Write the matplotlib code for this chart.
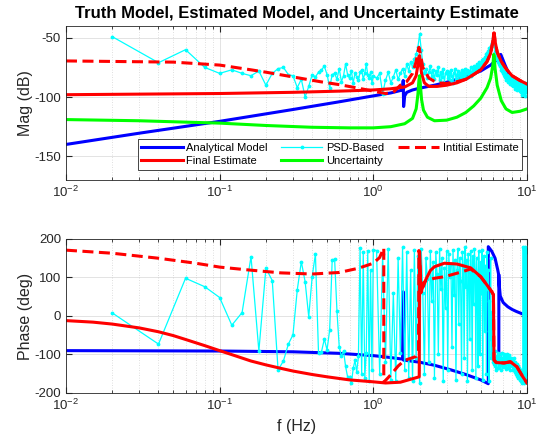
#!/usr/bin/env python3

import numpy as np
import matplotlib
matplotlib.use('Agg')
import matplotlib.pyplot as plt
from matplotlib.ticker import LogLocator, NullFormatter

plt.rcParams['font.family'] = ['Liberation Sans', 'DejaVu Sans']
plt.rcParams['mathtext.fontset'] = 'custom'
plt.rcParams['mathtext.rm'] = 'Liberation Sans'
plt.rcParams['axes.unicode_minus'] = False

# analytical (truth) model
f_model_mag = [0.01, 0.03, 0.1, 0.3, 0.6, 1.0, 1.3, 1.5, 1.55, 1.565, 1.575, 1.6, 1.65, 1.8, 2.0, 2.5, 3.0,
               4.0, 5.0, 5.8, 6.3, 6.6, 6.75, 6.9, 7.2, 7.6, 8.0, 9.0, 10.0]
mag_model = [-140, -130.5, -120.5, -110.5, -104, -99, -96.5, -94.5, -94, -86, -108, -99, -96, -94, -92.5, -90,
             -87.5, -83, -78, -73, -69, -66, -64, -67, -73, -80, -84, -89, -91]
f_model_ph = [0.01, 0.1, 0.3, 0.6, 1.0, 1.3, 1.55, 1.565, 1.575, 1.6, 2.0, 2.5, 3.2, 4.0, 5.0, 5.6, 5.6, 5.9, 6.2,
              6.45, 6.56, 6.56, 6.56, 6.56, 6.6, 6.7, 7.0, 7.5, 8.0, 8.5, 9.0, 9.4]
ph_model = [-90, -91, -93, -97, -103, -108, -112, 63, -115, -115, -120, -128, -140, -152, -166, -176, 180, 168, 150,
            120, 105, -112, np.nan, 105, 80, 52, 35, 24, 17, 12, 8, 5]

# final estimate
f_final_mag = [0.01, 0.1, 0.3, 0.6, 1.0, 1.3, 1.6, 1.8, 1.9, 1.95, 1.98, 2.0, 2.02, 2.06, 2.15, 2.3, 2.6, 3.0,
               3.5, 4.0, 4.5, 5.0, 5.5, 5.8, 6.0, 6.08, 6.12, 6.2, 6.4, 6.8, 7.3, 8.0, 9.0, 10.0]
mag_final = [-98, -97, -96, -95, -94, -93, -91.5, -88, -82, -73, -66, -65, -70, -80, -88, -91, -91, -90,
             -88, -85, -81, -77, -70, -63, -53, -46, -46, -53, -62, -70, -76, -82, -86, -89]
f_final_ph = [0.01, 0.015, 0.02, 0.03, 0.04, 0.05, 0.06, 0.08, 0.1, 0.13, 0.16, 0.2, 0.25, 0.3, 0.4, 0.5, 0.7,
              1.0, 1.2, 1.5, 1.8, 1.99, 2.0, 2.02, 2.04, 2.08, 2.12, 2.2, 2.35, 2.5, 2.9, 3.5, 4.3, 5.0, 5.5,
              5.9, 6.05, 6.1, 6.3, 7.1, 7.8, 8.6, 9.4, 10.0]
ph_final = [-12, -16, -21, -31, -41, -51, -61, -77, -90, -105, -117, -127, -136, -143, -152, -158, -166,
            -171, -174, -172, -163, -158, 167, 120, 60, 72, 77, 95, 118, 128, 137, 135, 125, 102, 80,
            63, 55, -114, -121, -122, -119, -132, -158, -174]

# initial estimate
f_init_mag = [0.01, 0.05, 0.1, 0.16, 0.2, 0.3, 0.45, 0.6, 0.8, 1.0, 1.2, 1.35, 1.5, 1.65, 1.8, 1.9, 1.95, 1.98,
              2.02, 2.1, 2.3, 2.6, 3.0, 3.5, 4.0, 4.5, 5.0, 5.5, 5.8, 6.0, 6.08, 6.12, 6.2, 6.4, 6.8, 7.3, 8.0,
              9.0, 10.0]
mag_init = [-69.5, -70.5, -73, -77, -79, -83, -87, -89.5, -92.5, -95, -97, -96, -90, -87, -80, -70, -62, -58,
            -63, -75, -84, -88, -88.5, -87, -85, -81, -77, -70, -63, -53, -46, -46, -53, -62, -70, -76, -82,
            -86, -89]
f_init_ph = [0.01, 0.02, 0.04, 0.07, 0.1, 0.15, 0.25, 0.4, 0.6, 0.8, 1.0, 1.1, 1.17, 1.17, 1.25, 1.35, 1.45,
             1.6, 1.75, 1.9, 1.97, 1.98, 2.05, 2.2, 2.5, 2.9, 3.5, 4.0, 4.3, 5.0, 5.5, 5.9, 6.05, 6.1, 6.3, 7.1,
             7.8, 8.6, 9.4, 10.0]
ph_init = [171, 163, 150, 137, 127, 120, 112, 109, 113, 124, 137, 152, 177, -172, -160, -145, -130,
           -115, -110, -105, -90, 170, 80, 92, 98, 102, 111, 118, 122, 102, 80, 63, 55, -114, -121, -122,
           -119, -132, -158, -174]

# uncertainty
f_unc = [0.01, 0.03, 0.1, 0.2, 0.4, 0.7, 1.0, 1.3, 1.6, 1.8, 1.9, 1.95, 1.98, 2.0, 2.02, 2.06, 2.12, 2.25, 2.5,
         3.0, 3.5, 4.0, 4.5, 5.0, 5.5, 5.8, 6.0, 6.08, 6.12, 6.2, 6.4, 6.8, 7.3, 8.0, 9.0, 10.0]
mag_unc = [-119, -120, -122, -124, -125.5, -126, -126, -125, -122.5, -118, -110, -98, -86, -82, -88, -102, -111,
           -117, -120, -119.5, -117, -113, -107.5, -101, -92, -84, -73, -64, -66, -76, -90, -103, -110, -113,
           -112, -110]

# PSD-based estimate (0.02 Hz bins below 1 Hz, 0.05 Hz above)
psd_f = np.concatenate([np.arange(1, 51) * 0.02, 1.0 + np.arange(1, 181) * 0.05])
psd_mag = [
    -49, -71, -60, -75, -80, -77, -80, -82, -78, -90,
    -80, -76, -75, -81, -82, -92, -85, -100, -91, -81,
    -83, -79, -77, -74, -81, -92, -81, -80, -85, -76,
    -87, -82, -72, -81, -84, -78, -88, -80, -83, -86,
    -79, -77, -85, -80, -72, -81, -84, -79, -88, -82,
    -84, -80, -97, -86, -79, -88, -83, -77, -85, -80,
    -76, -82, -72, -78, -70, -75, -68, -64, -58, -47,
    -60, -72, -80, -76, -84, -79, -74, -82, -77, -85,
    -78, -81, -75, -86, -79, -83, -76, -88, -80, -78,
    -84, -79, -86, -77, -82, -88, -80, -76, -85, -81,
    -78, -86, -80, -83, -77, -85, -79, -82, -76, -84,
    -80, -77, -83, -78, -81, -75, -82, -79, -76, -80,
    -74, -79, -76, -72, -78, -73, -76, -70, -74, -71,
    -73, -69, -72, -68, -70, -66, -69, -64, -67, -63,
    -65, -61, -63, -59, -60, -57, -58, -55, -54, -52,
    -50, -54, -58, -62, -61, -66, -64, -68, -70, -69,
    -72, -70, -74, -73, -77, -75, -78, -76, -80, -78,
    -81, -79, -83, -80, -84, -82, -86, -81, -85, -83,
    -87, -84, -82, -88, -85, -89, -84, -87, -90, -86,
    -88, -85, -91, -87, -84, -90, -88, -93, -86, -89,
    -91, -87, -94, -89, -86, -92, -90, -88, -95, -89,
    -92, -88, -96, -90, -93, -87, -98, -91, -89, -94,
    -90, -97, -92, -88, -99, -93, -90, -96, -91, -94,
]
psd_ph = [
    8, -73, 98, 76, 48, -24, 9, 154, -91, 124,
    92, -140, -117, -73, -49, 68, 141, 89, -2, 102,
    161, -97, -93, -60, -88, -36, 145, 148, 13, -80,
    -105, -90, -131, -158, -158, -175, -136, -115, -145, -105,
    176, -150, 165, -160, -95, 170, -168, 120, -140, 172,
    170, -150, 160, -120, 175, -165, 60, -170, 150, -95,
    178, -140, 165, -160, 120, -170, 172, -110, 155, -175,
    175, 60, -150, 150, 95, -120, 170, 40, 140, -160,
    165, 110, -100, 175, 70, 150, -170, 125, 20, 168,
    -140, 160, 100, 135, -80, 172, 55, 145, -165, 120,
    175, -20, 150, 90, -150, 165, 130, -110, 178, 75,
    145, -170, 160, 115, -60, 170, 100, -140, 155, 30,
    175, 120, -160, 150, 80, -130, 168, 95, -100, 140,
    60, 172, -165, 110, 155, -40, 130, 90, -150, 165,
    70, 120, -170, 40, -60, 150, -110, 10, -90, -120,
    -100, -125, -90, -130, -110, -140, -105, -120, -95, -135,
    -115, -100, -128, -110, -140, -118, -95, -125, -108, -132,
    -112, -98, -130, -120, -105, -138, -115, -100, -125, -110,
    -135, -118, -102, -128, -115, -140, -108, -122, -130, -112,
    -125, -140, -118, -132, -110, -145, -128, -120, -150, -135,
    -138, -125, -155, -140, -130, -160, -145, -135, -150, -165,
    -148, -170, -155, -140, -165, -175, -150, -160, 178, -170,
    175, -175, 170, -160, 180, -165, 175, -170, 165, -150,
]

blue = '#0000FF'
red = '#FF0000'
cyan = '#00FFFF'
green = '#00FF00'
lw = 2.2
dash = (0, (3.6, 1.8))

fig = plt.figure(figsize=(5.39, 4.42), dpi=100)
ax1 = fig.add_axes([0.1224, 0.5928, 0.8553, 0.3484])
ax2 = fig.add_axes([0.1224, 0.1109, 0.8553, 0.3484])

h_model, = ax1.plot(f_model_mag, mag_model, color=blue, lw=lw, label='Analytical Model')
h_psd, = ax1.plot(psd_f, psd_mag, color=cyan, lw=0.9, marker='.', ms=3.5, label='PSD-Based')
h_init, = ax1.plot(f_init_mag, mag_init, color=red, lw=lw, ls=dash, label='Intitial Estimate')
h_final, = ax1.plot(f_final_mag, mag_final, color=red, lw=lw, label='Final Estimate')
h_unc, = ax1.plot(f_unc, mag_unc, color=green, lw=lw, label='Uncertainty')

ax2.plot(f_model_ph, ph_model, color=blue, lw=lw)
ax2.plot(psd_f, psd_ph, color=cyan, lw=0.9, marker='.', ms=3.5)
ax2.plot(f_init_ph, ph_init, color=red, lw=lw, ls=dash)
ax2.plot(f_final_ph, ph_final, color=red, lw=lw)

for ax in (ax1, ax2):
    ax.set_xscale('log')
    ax.set_xlim(1e-2, 1e1)
    ax.xaxis.set_major_locator(LogLocator(base=10))
    ax.xaxis.set_minor_locator(LogLocator(base=10, subs=np.arange(2, 10)))
    ax.xaxis.set_minor_formatter(NullFormatter())
    ax.grid(True, which='major', color='#262626', alpha=0.15, lw=0.6)
    ax.grid(True, which='minor', axis='x', color='#262626', alpha=0.2, lw=0.6, ls=(0, (1, 2)))
    ax.tick_params(which='both', direction='in', top=True, right=True, colors='#262626',
                   labelsize=9.5, labelcolor='#262626')
    ax.tick_params(which='major', length=4)
    ax.tick_params(which='minor', length=2)
    for s in ax.spines.values():
        s.set_color('#262626')
        s.set_linewidth(0.6)

ax1.set_ylim(-170, -40)
ax1.set_yticks([-150, -100, -50])
ax2.set_ylim(-200, 200)
ax2.set_yticks([-200, -100, 0, 100, 200])

ax1.set_ylabel('Mag (dB)', fontsize=11.5, color='#262626', labelpad=1)
ax2.set_ylabel('Phase (deg)', fontsize=11.5, color='#262626', labelpad=1)
ax2.set_xlabel('f (Hz)', fontsize=11.5, color='#262626')
ax1.set_title('Truth Model, Estimated Model, and Uncertainty Estimate', fontsize=12, fontweight='bold', pad=6)

leg = ax1.legend([h_model, h_final, h_psd, h_unc, h_init],
                 ['Analytical Model', 'Final Estimate', 'PSD-Based', 'Uncertainty', 'Intitial Estimate'],
                 ncol=3, loc='lower right', bbox_to_anchor=(0.99, 0.065), fontsize=8,
                 fancybox=False, framealpha=1, edgecolor='#262626', handlelength=3.7,
                 handletextpad=0.35, columnspacing=1.2, labelspacing=0.3, borderpad=0.35,
                 borderaxespad=0)
leg.get_frame().set_linewidth(0.6)

plt.savefig('out.png', dpi=100)
